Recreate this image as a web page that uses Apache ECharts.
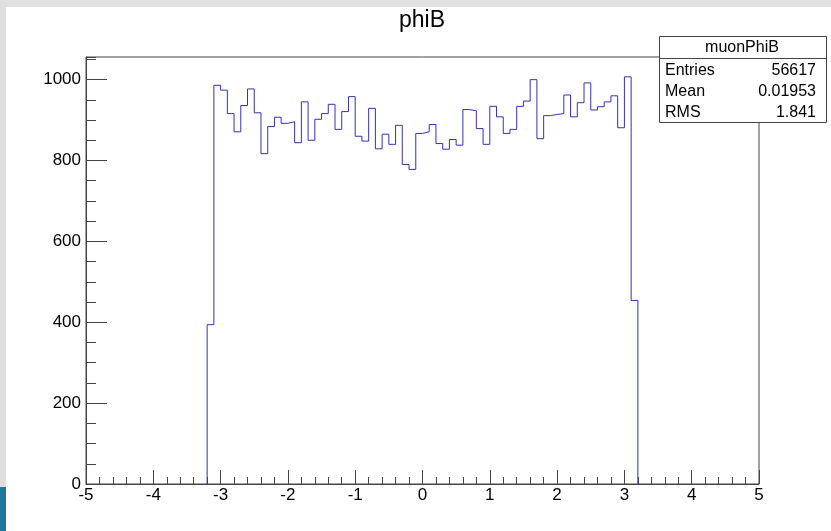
<!DOCTYPE html>
<html>
<head>
<meta charset="utf-8">
<script src="https://cdn.jsdelivr.net/npm/echarts@6/dist/echarts.min.js"></script>
<style>
  html, body { margin: 0; padding: 0; background: #fff; }
  #main { width: 831px; height: 531px; }
</style>
</head>
<body>
<div id="main"></div>
<script>
// histogram phiB, 64 bins from -3.2 to 3.2
var binLow = -3.2;
var binWidth = 0.1;
var counts = [394, 986, 974, 916, 871, 936, 977, 918, 817, 884,
              907, 892, 896, 844, 945, 850, 902, 916, 939, 877,
              921, 958, 860, 848, 929, 829, 865, 840, 887, 790,
              778, 867, 871, 889, 842, 828, 852, 838, 926, 923,
              879, 840, 934, 908, 867, 877, 934, 947, 1000, 854,
              911, 914, 916, 962, 908, 943, 992, 925, 933, 945,
              960, 881, 1007, 454];
var xTicks = [-5, -4, -3, -2, -1, 0, 1, 2, 3, 4, 5];
var yTicks = [0, 200, 400, 600, 800, 1000];
var histTitle = 'phiB';
var statsName = 'muonPhiB';
var statsLabels = ['Entries', 'Mean', 'RMS'];
var statsValues = ['56617', '0.01953', '1.841'];

// outline of the histogram (ROOT style step line)
var outline = [[binLow, 0]];
for (var i = 0; i < counts.length; i++) {
    var lo = +(binLow + i * binWidth).toFixed(4);
    var hi = +(binLow + (i + 1) * binWidth).toFixed(4);
    outline.push([lo, counts[i]]);
    outline.push([hi, counts[i]]);
}
outline.push([+(binLow + counts.length * binWidth).toFixed(4), 0]);

var font = 'Liberation Sans, Arial, Helvetica, sans-serif';
var axisColor = '#444';

var statsBox = { type: 'group', z: 100, children: [] };
statsBox.children.push({
    type: 'rect', shape: { x: 659.5, y: 36.5, width: 167, height: 86 },
    style: { fill: '#fff', stroke: axisColor, lineWidth: 1 }
});
statsBox.children.push({
    type: 'line', shape: { x1: 659.5, y1: 58.5, x2: 826.5, y2: 58.5 },
    style: { stroke: axisColor, lineWidth: 1 }
});
statsBox.children.push({
    type: 'text', x: 742, y: 48,
    style: { text: statsName, font: '16px ' + font, fill: '#000', textAlign: 'center', textVerticalAlign: 'middle' }
});
for (var k = 0; k < statsLabels.length; k++) {
    statsBox.children.push({
        type: 'text', x: 665, y: 71 + k * 21,
        style: { text: statsLabels[k], font: '16px ' + font, fill: '#000', textAlign: 'left', textVerticalAlign: 'middle' }
    });
    statsBox.children.push({
        type: 'text', x: 816, y: 71 + k * 21,
        style: { text: statsValues[k], font: '16px ' + font, fill: '#000', textAlign: 'right', textVerticalAlign: 'middle' }
    });
}

var myChart = echarts.init(document.getElementById('main'), null, { renderer: 'canvas' });
var option = {
    backgroundColor: '#fff',
    animation: false,
    grid: {
        left: 86, right: 72, top: 57, bottom: 47,
        show: true, borderColor: axisColor, borderWidth: 1, backgroundColor: 'transparent'
    },
    xAxis: {
        type: 'value', min: -5, max: 5, interval: 1,
        axisLine: { onZero: false, lineStyle: { color: axisColor } },
        axisTick: { inside: true, length: 14, lineStyle: { color: axisColor } },
        minorTick: { show: true, splitNumber: 5, length: 7, lineStyle: { color: axisColor } },
        splitLine: { show: false },
        axisLabel: {
            color: '#000', fontFamily: font, fontSize: 17, margin: 3,
            customValues: xTicks
        }
    },
    yAxis: [{
        type: 'value', min: 0, max: 1056, interval: 200,
        axisLine: { show: true, onZero: false, lineStyle: { color: axisColor } },
        axisTick: { show: true, inside: true, length: 21, customValues: yTicks, lineStyle: { color: axisColor } },
        splitLine: { show: false },
        axisLabel: {
            color: '#000', fontFamily: font, fontSize: 17, margin: 5,
            customValues: yTicks,
            formatter: function (v) { return String(v); }
        }
    }, {
        // minor ticks every 50
        type: 'value', min: 0, max: 1056, interval: 50, position: 'left',
        axisLine: { show: false, onZero: false },
        axisTick: { show: true, inside: true, length: 10, lineStyle: { color: axisColor } },
        axisLabel: { show: false },
        splitLine: { show: false }
    }],
    series: [{
        type: 'line',
        data: outline,
        symbol: 'none',
        lineStyle: { color: '#3232b4', width: 1 },
        z: 5
    }],
    graphic: [
        { type: 'rect', shape: { x: 0, y: 0, width: 831, height: 7 }, style: { fill: '#e1e1e1' }, z: 50 },
        { type: 'rect', shape: { x: 0, y: 0, width: 6, height: 531 }, style: { fill: '#dedede' }, z: 50 },
        { type: 'rect', shape: { x: 0, y: 487, width: 6, height: 44 }, style: { fill: '#1b7b92' }, z: 51 },
        {
            type: 'text', x: 422, y: 21, z: 60,
            style: { text: histTitle, font: '23px ' + font, fill: '#000', textAlign: 'center', textVerticalAlign: 'middle' }
        },
        statsBox
    ]
};
myChart.setOption(option);
</script>
</body>
</html>
